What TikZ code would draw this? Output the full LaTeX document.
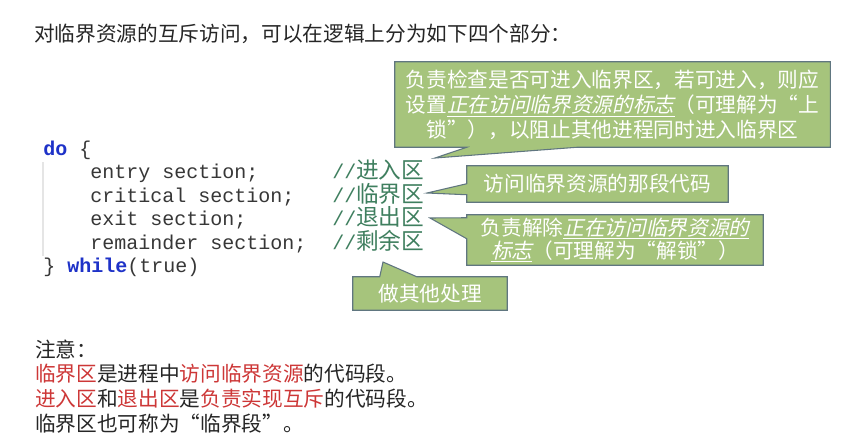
\documentclass[tikz,border=0pt]{standalone}
\usepackage{fontspec}
\newfontfamily\cjk{Noto Sans CJK SC}
\newfontfamily\cjkslant{Noto Sans CJK SC}[FakeSlant=0.22]
\newfontfamily\codefont{Liberation Mono}
\usetikzlibrary{calc,backgrounds}

\definecolor{calloutfill}{RGB}{166,196,124}
\definecolor{calloutline}{RGB}{96,118,128}
\definecolor{kwblue}{RGB}{30,50,200}
\definecolor{cmgreen}{RGB}{63,127,95}
\definecolor{notered}{RGB}{205,55,55}
\definecolor{codegray}{RGB}{55,55,55}

\newcommand{\flagtext}[1]{\underline{{\cjkslant #1}}}
\newcommand{\hl}[1]{\textcolor{notered}{#1}}
\newcommand{\cmcjk}[1]{{\cjk\fontsize{17}{18}\selectfont #1}}

\tikzset{
  codeline/.style={anchor=base west, inner sep=0pt, text=codegray,
    font=\codefont\fontsize{15}{18}\selectfont},
  cmline/.style={codeline, text=cmgreen},
  callout/.style={fill=calloutfill, draw=calloutline, line width=0.8pt},
  calltext/.style={inner sep=0pt, text=white, align=center,
    font=\cjk\fontsize{15.5}{18.75}\selectfont},
  plain/.style={anchor=base west, inner sep=0pt, text=black!85,
    font=\cjk\fontsize{15.5}{18}\selectfont},
}

\begin{document}
\begin{tikzpicture}[x=0.75pt, y=-0.75pt]
  \useasboundingbox (0,0) rectangle (862,437);

  % heading
  \node[plain] (title) at (34,41) {对临界资源的互斥访问，可以在逻辑上分为如下四个部分：};

  % code block
  \draw[gray!20, line width=0.8pt] (43,162) -- (43,256);
  \node[codeline] (doLine) at (43,155) {\textcolor{kwblue}{\bfseries do} \{};
  \node[codeline] (entry) at (90,178.5) {entry section;};
  \node[codeline] (crit) at (90,202) {critical section;};
  \node[codeline] (exit) at (90,225.5) {exit section;};
  \node[codeline] (rem) at (90,249) {remainder section;};
  \node[codeline] (whileLine) at (43,272.5) {\} \textcolor{kwblue}{\bfseries while}(true)};

  % comments
  \node[cmline] (entryCm) at (332,178.5) {//\cmcjk{进入区}};
  \node[cmline] (critCm) at (332,202) {//\cmcjk{临界区}};
  \node[cmline] (exitCm) at (332,225.5) {//\cmcjk{退出区}};
  \node[cmline] (remCm) at (332,249) {//\cmcjk{剩余区}};

  % callouts
  \node[calltext, minimum width=326.25pt, minimum height=63.75pt] (c1) at (612.5,104.5)
    {负责检查是否可进入临界区，若可进入，则应\\
     设置\flagtext{正在访问临界资源的标志}（可理解为“上\\
     锁”），以阻止其他进程同时进入临界区};
  \node[calltext, minimum width=195.75pt, minimum height=27pt] (c2) at (597.5,184)
    {访问临界资源的那段代码};
  \node[calltext, minimum width=222pt, minimum height=37.5pt, font=\cjk\fontsize{15.5}{17.25}\selectfont] (c3) at (615,240)
    {负责解除\flagtext{正在访问临界资源的}\\
     \flagtext{标志}（可理解为“解锁”）};
  \node[calltext, minimum width=115.5pt, minimum height=24.75pt] (c4) at (430,293.5)
    {做其他处理};

  \coordinate (tip1) at (435,158);
  \coordinate (tip2) at (427,193);
  \coordinate (tip3) at (430,218);
  \coordinate (tip4) at (383,262);

  \begin{scope}[on background layer]
    \fill[white] (0,0) rectangle (862,437);
    \draw[callout] (c1.south west) -- (c1.north west) -- (c1.north east) -- (c1.south east)
      -- ($(c1.south west)+(182,0)$) -- (tip1) -- ($(c1.south west)+(72,0)$) -- cycle;
    \draw[callout] (c2.north west) -- (c2.north east) -- (c2.south east) -- (c2.south west)
      -- ($(c2.north west)+(0,29)$) -- (tip2) -- ($(c2.north west)+(0,18)$) -- cycle;
    \draw[callout] (c3.north west) -- (c3.north east) -- (c3.south east) -- (c3.south west)
      -- ($(c3.north west)+(0,24)$) -- (tip3) -- ($(c3.north west)+(0,3)$) -- cycle;
    \draw[callout] (c4.north west) -- ($(c4.north west)+(27,0)$) -- (tip4)
      -- ($(c4.north west)+(64,0)$) -- (c4.north east) -- (c4.south east) -- (c4.south west) -- cycle;
  \end{scope}

  % notes
  \node[plain] (note) at (35,357) {注意：};
  \node[plain] (note1) at (35,381) {\hl{临界区}是进程中\hl{访问临界资源}的代码段。};
  \node[plain] (note2) at (35,406) {\hl{进入区}和\hl{退出区}是\hl{负责实现互斥}的代码段。};
  \node[plain] (note3) at (35,431) {临界区也可称为“临界段”。};
\end{tikzpicture}
\end{document}
